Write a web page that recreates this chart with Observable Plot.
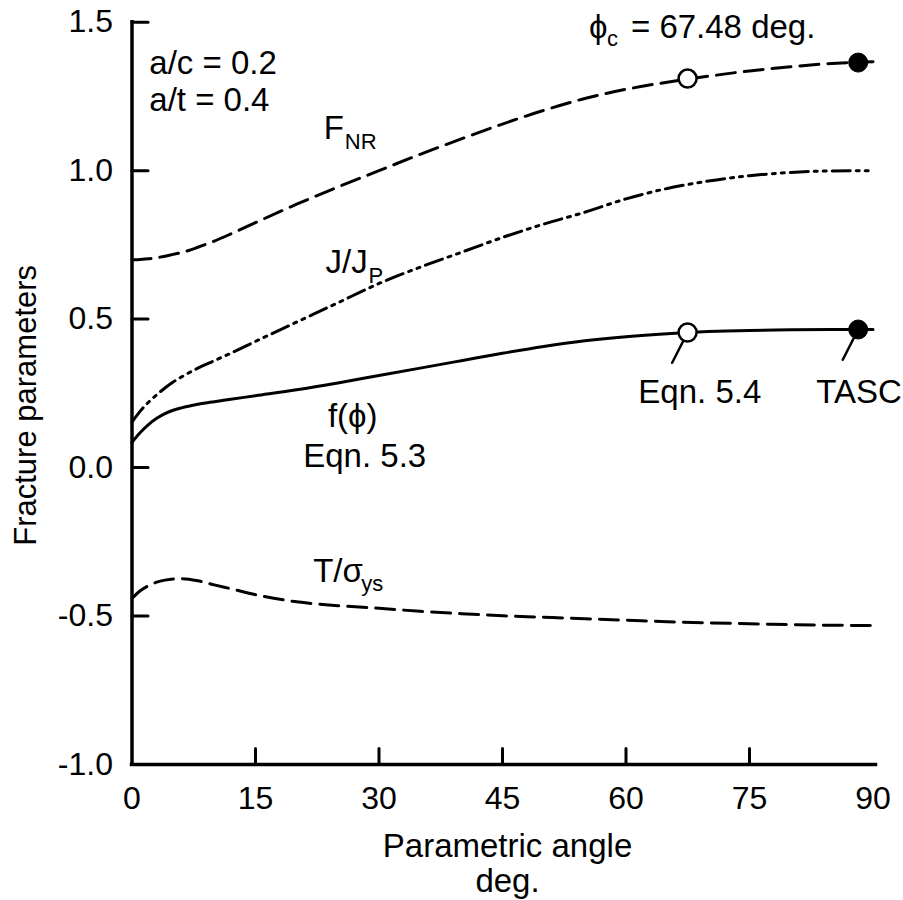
<!DOCTYPE html>
<html><head><meta charset="utf-8">
<script src="https://cdn.jsdelivr.net/npm/d3@7"></script>
<script src="https://cdn.jsdelivr.net/npm/@observablehq/plot@0.6"></script>
<style>body{margin:0;background:#fff}</style>
</head><body><div id="chart"></div>
<script>
// ---- data ----
const phi    = [0, 1, 2, 3, 4, 5, 6, 8, 10, 12, 15, 20, 25, 30, 35, 40, 45, 50, 55, 60, 65, 70, 75, 80, 85, 90];
const fNR    = [0.700, 0.701, 0.703, 0.707, 0.712, 0.718, 0.724, 0.742, 0.763, 0.787, 0.825, 0.887, 0.945, 1.000, 1.055, 1.107, 1.157, 1.203, 1.243, 1.274, 1.298, 1.318, 1.336, 1.350, 1.361, 1.367];
const jRatio = [0.153, 0.190, 0.220, 0.245, 0.268, 0.288, 0.305, 0.335, 0.360, 0.385, 0.425, 0.490, 0.555, 0.620, 0.675, 0.725, 0.775, 0.820, 0.860, 0.905, 0.940, 0.965, 0.983, 0.994, 0.999, 1.000];
const fPhi   = [0.085, 0.118, 0.145, 0.166, 0.182, 0.193, 0.201, 0.213, 0.222, 0.230, 0.242, 0.262, 0.285, 0.310, 0.335, 0.360, 0.385, 0.408, 0.427, 0.441, 0.451, 0.458, 0.462, 0.464, 0.465, 0.465];
const tRatio = [-0.441, -0.415, -0.398, -0.386, -0.379, -0.375, -0.374, -0.381, -0.395, -0.408, -0.428, -0.452, -0.465, -0.474, -0.484, -0.492, -0.499, -0.504, -0.509, -0.514, -0.519, -0.523, -0.526, -0.529, -0.531, -0.532];

const xTicks = [0, 15, 30, 45, 60, 75, 90];
const xInnerTicks = [15, 30, 45, 60, 75];
const yTicks = [1.5, 1.0, 0.5, 0.0, -0.5, -1.0];
const yInnerTicks = [1.5, 1.0, 0.5, 0.0, -0.5];

const phiC = 67.48;
const phiTASC = 88.2;
const openMarkers = [{x: phiC, y: 1.31}, {x: phiC, y: 0.455}];
const filledMarkers = [{x: phiTASC, y: 1.364}, {x: phiTASC, y: 0.465}];
const leaderMarkers = [openMarkers[1], filledMarkers[1]];

// annotation anchors (data coordinates, baseline)
const notes = [
  {text: "a/c = 0.2", x: 2.1, y: 1.327},
  {text: "a/t = 0.4", x: 2.1, y: 1.202},
  {text: "f(ϕ)", x: 23.8, y: 0.138},
  {text: "Eqn. 5.3", x: 20.8, y: 0.003},
  {text: "Eqn. 5.4", x: 61.5, y: 0.219},
  {text: "TASC", x: 83.1, y: 0.219}
];
const fnrLabel = {x: 23.3, y: 1.108};
const jLabel = {x: 23.5, y: 0.657};
const tLabel = {x: 22.0, y: -0.387};
const phiCLabel = {x: 55.5, y: 1.448};

// ---- build ----
const toRows = (vals) => phi.map((x, i) => ({x, y: vals[i]}));
const tickShape = {draw(ctx, l) { ctx.moveTo(0, 0); ctx.lineTo(0, -l); }};
const font = "'Liberation Sans', Arial, Helvetica, sans-serif";
const big = 33, sub = 22;

const plot = Plot.plot({
  width: 903,
  height: 900,
  marginLeft: 131.5,
  marginRight: 30.5,
  marginTop: 21.7,
  marginBottom: 136,
  style: {fontFamily: font, fontSize: "32px", background: "white", color: "black"},
  x: {domain: [0, 90], ticks: xTicks, tickSize: 0, tickPadding: 22, label: null, tickFormat: d => String(d)},
  y: {domain: [-1, 1.5], ticks: yTicks, tickSize: 0, tickPadding: 19, label: null, tickFormat: d => d.toFixed(1)},
  marks: [
    // axes lines
    Plot.ruleX([0], {strokeWidth: 3.5, strokeLinecap: "square"}),
    Plot.ruleY([-1], {strokeWidth: 3.5, strokeLinecap: "square", insetRight: -3}),
    // inward ticks
    Plot.vector(xInnerTicks, {x: d => d, y: -1, length: 16, anchor: "start", shape: tickShape, strokeWidth: 3}),
    Plot.vector(yInnerTicks, {x: 0, y: d => d, rotate: 90, length: 16, anchor: "start", shape: tickShape, strokeWidth: 3}),
    // curves
    Plot.line(toRows(fNR), {x: "x", y: "y", stroke: "black", strokeWidth: 3, strokeDasharray: "19,9", curve: "monotone-x"}),
    Plot.line(toRows(jRatio), {x: "x", y: "y", stroke: "black", strokeWidth: 3, strokeDasharray: "18,6,3,6,3,6", curve: "monotone-x"}),
    Plot.line(toRows(fPhi), {x: "x", y: "y", stroke: "black", strokeWidth: 3, curve: "monotone-x"}),
    Plot.line(toRows(tRatio), {x: "x", y: "y", stroke: "black", strokeWidth: 3, strokeDasharray: "19,9", curve: "monotone-x"}),
    // leader lines
    Plot.vector(leaderMarkers, {x: "x", y: "y", rotate: 207, length: 34, anchor: "start", shape: tickShape, strokeWidth: 2.5}),
    // markers
    Plot.dot(openMarkers, {x: "x", y: "y", r: 9, fill: "white", stroke: "black", strokeWidth: 2.5}),
    Plot.dot(filledMarkers, {x: "x", y: "y", r: 9.5, fill: "black", stroke: "black", strokeWidth: 1}),
    // annotations
    Plot.text(notes, {x: "x", y: "y", text: "text", textAnchor: "start", lineAnchor: "bottom", fontSize: big}),
    Plot.text([fnrLabel], {x: "x", y: "y", text: () => "F", textAnchor: "start", lineAnchor: "bottom", fontSize: big}),
    Plot.text([fnrLabel], {x: "x", y: "y", text: () => "NR", textAnchor: "start", lineAnchor: "bottom", fontSize: sub, dx: 21, dy: 10}),
    Plot.text([jLabel], {x: "x", y: "y", text: () => "J/J", textAnchor: "start", lineAnchor: "bottom", fontSize: big}),
    Plot.text([jLabel], {x: "x", y: "y", text: () => "P", textAnchor: "start", lineAnchor: "bottom", fontSize: sub, dx: 43, dy: 10}),
    Plot.text([tLabel], {x: "x", y: "y", text: () => "T/σ", textAnchor: "start", lineAnchor: "bottom", fontSize: big}),
    Plot.text([tLabel], {x: "x", y: "y", text: () => "ys", textAnchor: "start", lineAnchor: "bottom", fontSize: sub, dx: 48, dy: 9}),
    Plot.text([phiCLabel], {x: "x", y: "y", text: () => "ϕ", textAnchor: "start", lineAnchor: "bottom", fontSize: big}),
    Plot.text([phiCLabel], {x: "x", y: "y", text: () => "c", textAnchor: "start", lineAnchor: "bottom", fontSize: sub, dx: 18, dy: 8}),
    Plot.text([phiCLabel], {x: "x", y: "y", text: () => "= 67.48 deg.", textAnchor: "start", lineAnchor: "bottom", fontSize: big, dx: 42}),
    // axis titles
    Plot.text(["Fracture parameters"], {frameAnchor: "left", text: d => d, rotate: -90, lineAnchor: "middle", textAnchor: "middle", fontSize: 31, dx: -105.5, dy: 12}),
    Plot.text(["Parametric angle\ndeg."], {frameAnchor: "bottom", text: d => d, lineAnchor: "top", textAnchor: "middle", fontSize: 33, lineHeight: 1.06, dx: 5, dy: 68})
  ]
});
document.getElementById("chart").appendChild(plot);
</script>
</body></html>
